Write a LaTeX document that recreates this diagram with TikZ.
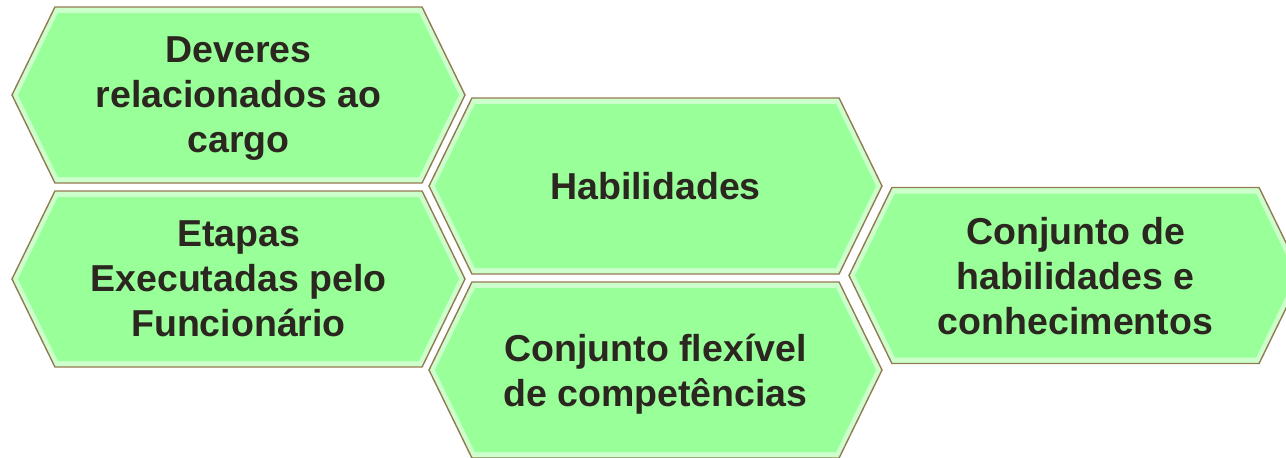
\documentclass[tikz,border=0pt]{standalone}
\usepackage{fontspec}
\setmainfont{Liberation Sans}
\usetikzlibrary{shapes.symbols,positioning}
\definecolor{hexfill}{RGB}{153,255,153}
\definecolor{hexband}{RGB}{204,255,204}
\definecolor{hexline}{RGB}{148,122,82}
\definecolor{hextext}{RGB}{43,38,32}
\tikzset{
  hexa/.style={signal, signal to=west and east, signal pointer angle=128,
    minimum width=453pt, minimum height=176pt, inner sep=0pt,
    draw=hexline, line width=1.4pt, fill=hexband},
  hexcore/.style={signal, signal to=west and east, signal pointer angle=128,
    minimum width=441pt, minimum height=164pt, inner sep=0pt,
    fill=hexfill, text=hextext, align=center, text depth=0pt,
    font=\fontsize{37.5}{45}\selectfont\bfseries},
}

\begin{document}
\begin{tikzpicture}[x=1pt, y=-1pt, node distance=184pt]
    \useasboundingbox (0,0) rectangle (1286,458);
    \clip (0,0) rectangle (1286,458);

	\node[hexa] (deveres) at (238.5,95) {};
	\node[hexcore] (tdeveres) at (deveres) {Deveres\\relacionados ao\\cargo};

	\node[hexa, below of=deveres] (etapas) {};
	\node[hexcore] (tetapas) at (etapas) {Etapas\\Executadas pelo\\Funcionário};

	\node[hexa] (habil) at (655.5,186) {};
	\node[hexcore] (thabil) at (habil) {Habilidades};

	\node[hexa, below of=habil] (flex) {};
	\node[hexcore] (tflex) at (flex) {Conjunto flexível\\de competências};

	\node[hexa] (conj) at (1075.5,275.5) {};
	\node[hexcore] (tconj) at (conj) {Conjunto de\\habilidades e\\conhecimentos};
\end{tikzpicture}
\end{document}
